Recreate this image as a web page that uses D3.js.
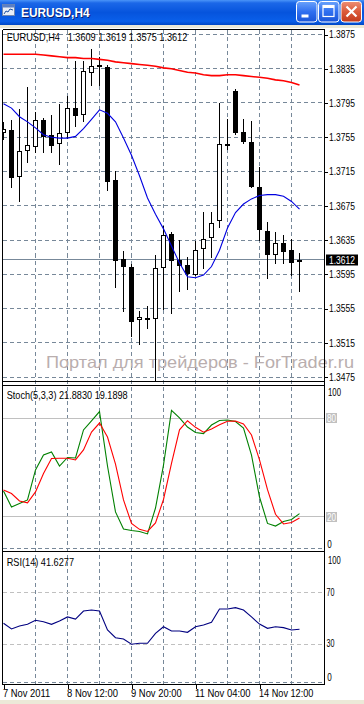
<!DOCTYPE html>
<html><head><meta charset="utf-8">
<script src="https://cdn.jsdelivr.net/npm/d3@7"></script>
<style>
html,body{margin:0;padding:0;background:#fff;overflow:hidden}
svg{display:block}
</style></head><body>
<svg id="c" width="364" height="704"></svg>
<script>
// ---------------- DATA ----------------
const symbolTitle = "EURUSD,H4";
const headerValues = "1.3609 1.3619 1.3575 1.3612";
const openP  = [1.3760,1.3763,1.3708,1.3739,1.3744,1.3775,1.3758,1.3747,1.3760,1.3789,1.3781,1.3830,1.3839,1.3837,1.3705,1.3613,1.3604,1.3541,1.3544,1.3543,1.3602,1.3642,1.3612,1.3606,1.3594,1.3624,1.3637,1.3657,1.3747,1.3809,1.3761,1.3750,1.3697,1.3646,1.3617,1.3631,1.3623,1.3609];
const highP  = [1.3772,1.3775,1.3787,1.3813,1.3784,1.3777,1.3780,1.3793,1.3803,1.3844,1.3844,1.3858,1.3848,1.3839,1.3715,1.3622,1.3606,1.3551,1.3557,1.3617,1.3651,1.3644,1.3635,1.3615,1.3633,1.3667,1.3667,1.3794,1.3776,1.3811,1.3776,1.3773,1.3720,1.3656,1.3644,1.3640,1.3636,1.3619];
const lowP   = [1.3752,1.3696,1.3680,1.3726,1.3737,1.3737,1.3737,1.3723,1.3754,1.3767,1.3773,1.3815,1.3816,1.3693,1.3579,1.3551,1.3522,1.3513,1.3532,1.3471,1.3554,1.3549,1.3575,1.3577,1.3593,1.3602,1.3615,1.3650,1.3741,1.3758,1.3748,1.3696,1.3634,1.3590,1.3608,1.3608,1.3593,1.3575];
const closeP = [1.3765,1.3707,1.3739,1.3746,1.3775,1.3755,1.3745,1.3760,1.3789,1.3780,1.3832,1.3838,1.3837,1.3703,1.3611,1.3604,1.3539,1.3545,1.3543,1.3602,1.3641,1.3611,1.3605,1.3595,1.3623,1.3636,1.3655,1.3747,1.3746,1.3760,1.3749,1.3697,1.3647,1.3617,1.3632,1.3621,1.3608,1.3612];
const maSlow = [1.3852,1.3852,1.3852,1.3852,1.3852,1.3851,1.3850,1.3849,1.3848,1.3848,1.3847,1.3847,1.3846,1.3845,1.3843,1.3842,1.3841,1.3840,1.3839,1.3838,1.3836,1.3835,1.3833,1.3831,1.3830,1.3828,1.3827,1.3827,1.3828,1.3828,1.3827,1.3826,1.3825,1.3824,1.3822,1.3821,1.3819,1.3816];
const maFast = [1.3794,1.3789,1.3779,1.3773,1.3766,1.3758,1.3755,1.3754,1.3754,1.3756,1.3765,1.3776,1.3787,1.3783,1.3773,1.3754,1.3734,1.3710,1.3684,1.3665,1.3648,1.3628,1.3608,1.3592,1.3591,1.3594,1.3604,1.3623,1.3649,1.3667,1.3677,1.3683,1.3687,1.3688,1.3688,1.3686,1.3680,1.3671];
const stochMain   = [35.7,25.9,28.0,30.2,48.5,57.6,59.5,50.9,56.1,55.8,72.9,78.4,84.1,50.9,22.9,12.5,11.6,11.0,9.5,25.3,51.5,84.8,80.2,74.7,71.3,70.7,75.9,78.7,79.0,78.0,74.1,57.6,32.0,15.9,14.3,17.1,18.3,21.883];
const stochSignal = [36.3,34.1,29.6,28.5,35.1,46.3,55.5,55.6,55.6,54.6,60.7,71.6,77.1,68.6,52.1,30.2,15.9,12.3,11.0,16.2,30.5,52.5,73.0,78.5,74.5,71.5,73.5,76.0,78.2,78.3,76.5,69.8,54.6,36.5,21.5,15.6,16.5,19.19];
const rsiVals = [46.3,41.9,44.2,45.5,48.6,47.5,45.5,48.1,51.2,49.6,55.8,56.6,55.8,41.1,35.1,34.1,30.0,30.8,30.8,38.5,43.6,40.3,40.3,39.3,43.6,45.0,47.1,57.4,57.4,58.4,56.6,51.2,45.7,42.4,43.6,42.9,41.1,41.63];
const lastPrice = 1.3612;
const priceTicks = [1.3875,1.3835,1.3795,1.3755,1.3715,1.3675,1.3635,1.3595,1.3555,1.3515,1.3475];
const timeTickIdx = [0,8,16,24,32];
const timeTickLabels = ["7 Nov 2011","8 Nov 12:00","9 Nov 20:00","11 Nov 04:00","14 Nov 12:00"];
const stochLevels = [80,20];
const rsiLevels = [70,30];
const stochAxisLabels = [100,80,20,0];
const rsiAxisLabels = [100,70,30,0];
const stochTitle = "Stoch(5,3,3) 21.8830 19.1898";
const rsiTitle = "RSI(14) 41.6277";
const watermark = "Портал для трейдеров - ForTrader.ru";

// ---------------- LAYOUT ----------------
const FONT = "'Liberation Sans', Arial, sans-serif";
const svg = d3.select("#c");
const L = 2.5, R = 324.5;
const mainTop = 29.5, mainBot = 381.5, stTop = 385.5, stBot = 548.5, rsTop = 551.5, rsBot = 684.5;

const x = d3.scaleLinear().domain([0, 37]).range([3.5, 299.5]);
const yMain = d3.scaleLinear().domain([1.3475, 1.3875]).range([377, 34.5]);
const ySt = d3.scaleLinear().domain([0, 100]).range([549.5, 385.5]);
const yRs = d3.scaleLinear().domain([0, 100]).range([683, 554]);
const crisp = v => Math.floor(v) + 0.5;

function txt(g, s, px, py, w, o = {}) {
  const t = g.append("text").attr("x", px).attr("y", py).text(s)
    .attr("font-family", o.family || FONT).attr("font-size", o.size || 10.5)
    .attr("fill", o.fill || "#000");
  if (o.weight) t.attr("font-weight", o.weight);
  if (w) t.attr("textLength", w).attr("lengthAdjust", "spacingAndGlyphs");
  return t;
}

// ---------------- WINDOW CHROME ----------------
const defs = svg.append("defs");
function grad(id, stops) {
  const g = defs.append("linearGradient").attr("id", id).attr("x1", 0).attr("y1", 0).attr("x2", 0).attr("y2", 1);
  stops.forEach(([o, c]) => g.append("stop").attr("offset", o).attr("stop-color", c));
}
grad("tb", [[0, "#4a94f8"], [0.12, "#1b67e8"], [0.5, "#0654dd"], [0.85, "#0a5fea"], [1, "#0046c4"]]);
grad("bb", [[0, "#6aa2fb"], [0.5, "#2f6ff0"], [1, "#1a55d8"]]);
grad("bc", [[0, "#ee8f74"], [0.5, "#db5a3a"], [1, "#c23a1c"]]);
defs.append("clipPath").attr("id", "cpMain").append("rect").attr("x", 3).attr("y", 30).attr("width", 321).attr("height", 351);
defs.append("clipPath").attr("id", "cpSt").append("rect").attr("x", 3).attr("y", 386).attr("width", 321).attr("height", 163);
defs.append("clipPath").attr("id", "cpRs").append("rect").attr("x", 3).attr("y", 552).attr("width", 321).attr("height", 132);

svg.append("rect").attr("x", 0).attr("y", 0).attr("width", 364).attr("height", 704).attr("fill", "#fff");
svg.append("rect").attr("x", 0).attr("y", 0).attr("width", 364).attr("height", 25).attr("fill", "url(#tb)");
svg.append("rect").attr("x", 0).attr("y", 25).attr("width", 364).attr("height", 3).attr("fill", "#ece9d8");
svg.append("rect").attr("x", 0).attr("y", 700).attr("width", 364).attr("height", 4).attr("fill", "#ece9d8");
// icon
const ic = svg.append("g");
ic.append("rect").attr("x", 2.5).attr("y", 4.5).attr("width", 12).attr("height", 11).attr("fill", "#e8eef8").attr("stroke", "#6f86b0");
ic.append("rect").attr("x", 2.5).attr("y", 4.5).attr("width", 12).attr("height", 3).attr("fill", "#5b7fc4");
ic.append("path").attr("d", "M4,14 L6,11 L8,12 L10,9 L13,10").attr("fill", "none").attr("stroke", "#2050a0").attr("stroke-width", 1);
txt(svg, symbolTitle, 22, 18.3, 68.6, { size: 12.5, weight: "bold", fill: "#0a1e6e" });
txt(svg, symbolTitle, 21, 17.3, 68.6, { size: 12.5, weight: "bold", fill: "#fff" });
// buttons
[[296.5, "url(#bb)"], [318.5, "url(#bb)"], [341, "url(#bc)"]].forEach(([bx, f]) => {
  svg.append("rect").attr("x", bx).attr("y", 1.5).attr("width", 20.5).attr("height", 20.5).attr("rx", 3)
    .attr("fill", f).attr("stroke", "#fff").attr("stroke-width", 1);
});
svg.append("rect").attr("x", 301.5).attr("y", 14.5).attr("width", 7).attr("height", 3).attr("fill", "#fff");
svg.append("rect").attr("x", 323).attr("y", 5.5).attr("width", 11).attr("height", 11).attr("fill", "none").attr("stroke", "#fff").attr("stroke-width", 1.2);
svg.append("rect").attr("x", 323).attr("y", 5).attr("width", 11).attr("height", 3).attr("fill", "#fff");
svg.append("path").attr("d", "M346.5,6.5 L356.5,16.5 M356.5,6.5 L346.5,16.5").attr("stroke", "#fff").attr("stroke-width", 2.2);

// ---------------- GRID ----------------
const gridC = "#778899";
const grid = svg.append("g").attr("shape-rendering", "crispEdges");
const vIdx = d3.range(4, 37, 4);
grid.selectAll(".vg").data(vIdx).join("line")
  .attr("x1", d => x(d)).attr("x2", d => x(d)).attr("y1", mainTop).attr("y2", rsBot)
  .attr("stroke", gridC).attr("stroke-dasharray", "4,3");
grid.selectAll(".hg").data(priceTicks).join("line")
  .attr("x1", L).attr("x2", R).attr("y1", d => crisp(yMain(d))).attr("y2", d => crisp(yMain(d)))
  .attr("stroke", gridC).attr("stroke-dasharray", "4,3");
// current price line
grid.append("line").attr("x1", L).attr("x2", R).attr("y1", crisp(yMain(lastPrice))).attr("y2", crisp(yMain(lastPrice))).attr("stroke", gridC);
// stoch levels
grid.selectAll(".sl").data(stochLevels).join("line")
  .attr("x1", L).attr("x2", R).attr("y1", d => crisp(ySt(d))).attr("y2", d => crisp(ySt(d))).attr("stroke", "#c0c0c0");
grid.append("line").attr("x1", L).attr("x2", R).attr("y1", stBot).attr("y2", stBot).attr("stroke", gridC).attr("stroke-dasharray", "4,3");
// rsi levels
grid.selectAll(".rl").data(rsiLevels).join("line")
  .attr("x1", L).attr("x2", R).attr("y1", d => crisp(yRs(d))).attr("y2", d => crisp(yRs(d))).attr("stroke", "#c0c0c0").attr("stroke-dasharray", "4,3");
grid.append("line").attr("x1", L).attr("x2", R).attr("y1", 682.5).attr("y2", 682.5).attr("stroke", gridC).attr("stroke-dasharray", "4,3");

// watermark
txt(svg, watermark, 46, 368.3, 308, { size: 16.5, fill: "#b9aeae" });

// ---------------- MAIN: CANDLES + MAs ----------------
const gm = svg.append("g").attr("clip-path", "url(#cpMain)");
const bars = d3.range(openP.length).map(i => ({ i, o: openP[i], h: highP[i], l: lowP[i], c: closeP[i] }));
gm.append("g").attr("shape-rendering", "crispEdges").selectAll("line").data(bars).join("line")
  .attr("x1", d => x(d.i)).attr("x2", d => x(d.i))
  .attr("y1", d => Math.floor(yMain(d.h))).attr("y2", d => Math.ceil(yMain(d.l)))
  .attr("stroke", "#000");
gm.append("g").attr("shape-rendering", "crispEdges").selectAll("rect").data(bars).join("rect")
  .each(function (d) {
    const top = Math.round(yMain(Math.max(d.o, d.c))), bot = Math.round(yMain(Math.min(d.o, d.c)));
    const s = d3.select(this);
    if (d.c >= d.o && bot - top >= 2) {
      s.attr("x", x(d.i) - 2).attr("width", 4).attr("y", top + 0.5).attr("height", bot - top - 1)
        .attr("fill", "#fff").attr("stroke", "#000");
    } else {
      s.attr("x", x(d.i) - 2.5).attr("width", 5).attr("y", top).attr("height", Math.max(2, bot - top))
        .attr("fill", "#000");
    }
  });
const lineMain = arr => d3.line().x((d, i) => x(i)).y(d => yMain(d))(arr);
gm.append("path").attr("d", lineMain(maSlow)).attr("fill", "none").attr("stroke", "#ff0000").attr("stroke-width", 1.6);
gm.append("path").attr("d", lineMain(maFast)).attr("fill", "none").attr("stroke", "#0000e0").attr("stroke-width", 1.1);

// ---------------- STOCH ----------------
const gs = svg.append("g").attr("clip-path", "url(#cpSt)");
const lineSt = arr => d3.line().x((d, i) => x(i)).y(d => ySt(d))(arr);
gs.append("path").attr("d", lineSt(stochMain)).attr("fill", "none").attr("stroke", "#008000").attr("stroke-width", 1.1);
gs.append("path").attr("d", lineSt(stochSignal)).attr("fill", "none").attr("stroke", "#ff0000").attr("stroke-width", 1.1);

// ---------------- RSI ----------------
const gr = svg.append("g").attr("clip-path", "url(#cpRs)");
gr.append("path").attr("d", d3.line().x((d, i) => x(i)).y(d => yRs(d))(rsiVals))
  .attr("fill", "none").attr("stroke", "#000080").attr("stroke-width", 1.1);

// ---------------- FRAMES ----------------
const fr = svg.append("g").attr("shape-rendering", "crispEdges").attr("stroke", "#000");
[[L, mainTop, R, mainTop], [L, mainBot, R, mainBot], [L, stTop, R, stTop], [L, rsTop, R, rsTop], [L, rsBot, R, rsBot],
 [L, mainTop, L, rsBot], [R, mainTop, R, rsBot]].forEach(([a, b, c2, d]) =>
  fr.append("line").attr("x1", a).attr("y1", b).attr("x2", c2).attr("y2", d));

// ---------------- AXES ----------------
const ax = svg.append("g").attr("transform", `translate(${R},0)`)
  .call(d3.axisRight(yMain).tickValues(priceTicks).tickSize(3).tickPadding(1.5).tickFormat(d3.format(".4f")));
ax.select(".domain").remove();
ax.attr("font-family", FONT).attr("font-size", 10.5);
ax.selectAll("line").attr("stroke", "#000").attr("shape-rendering", "crispEdges");
ax.selectAll("text").attr("fill", "#000").attr("textLength", 26).attr("lengthAdjust", "spacingAndGlyphs");

// current price tag
const yl = yMain(lastPrice);
svg.append("rect").attr("x", 326).attr("y", Math.round(yl) - 5.5).attr("width", 32).attr("height", 11).attr("fill", "#000");
txt(svg, d3.format(".4f")(lastPrice), 329, Math.round(yl) + 4, 26, { fill: "#fff" });

// header texts
txt(svg, symbolTitle, 6.7, 41, 53.3);
txt(svg, headerValues, 67.7, 41, 119.6);
txt(svg, stochTitle, 6.7, 399, 121);
txt(svg, rsiTitle, 6.7, 566, 67.3);

// stoch axis labels
stochAxisLabels.forEach(v => {
  const yy = ySt(v);
  if (v === 100) txt(svg, String(v), 328, yy + 10.5, 13);
  else if (v === 0) txt(svg, String(v), 327.3, yy - 2, 4.5);
  else {
    svg.append("rect").attr("x", 326).attr("y", Math.round(yy) - 5).attr("width", 11).attr("height", 10).attr("fill", "#c0c0c0");
    txt(svg, String(v), 327, Math.round(yy) + 4, 9, { fill: "#fff" });
  }
});
// rsi axis labels
rsiAxisLabels.forEach(v => {
  const yy = yRs(v);
  if (v === 100) txt(svg, String(v), 328, yy + 9.5, 12.7);
  else if (v === 0) txt(svg, String(v), 327.3, yy - 2, 4.5);
  else txt(svg, String(v), 326.5, yy + 3, 8);
});

// time axis
const tx = svg.append("g").attr("transform", `translate(0,${rsBot})`)
  .call(d3.axisBottom(x).tickValues(timeTickIdx).tickSize(4).tickFormat((d, i) => timeTickLabels[i]));
tx.select(".domain").remove();
tx.attr("font-family", FONT).attr("font-size", 10.5);
tx.selectAll("line").attr("stroke", "#000").attr("shape-rendering", "crispEdges");
const tw = [47.3, 51, 50.7, 55.6, 54.4];
tx.selectAll("text").attr("fill", "#000").attr("text-anchor", "start").attr("x", -1).attr("y", 12).attr("dy", 0)
  .attr("textLength", (d, i) => tw[i]).attr("lengthAdjust", "spacingAndGlyphs");
</script>
</body></html>
